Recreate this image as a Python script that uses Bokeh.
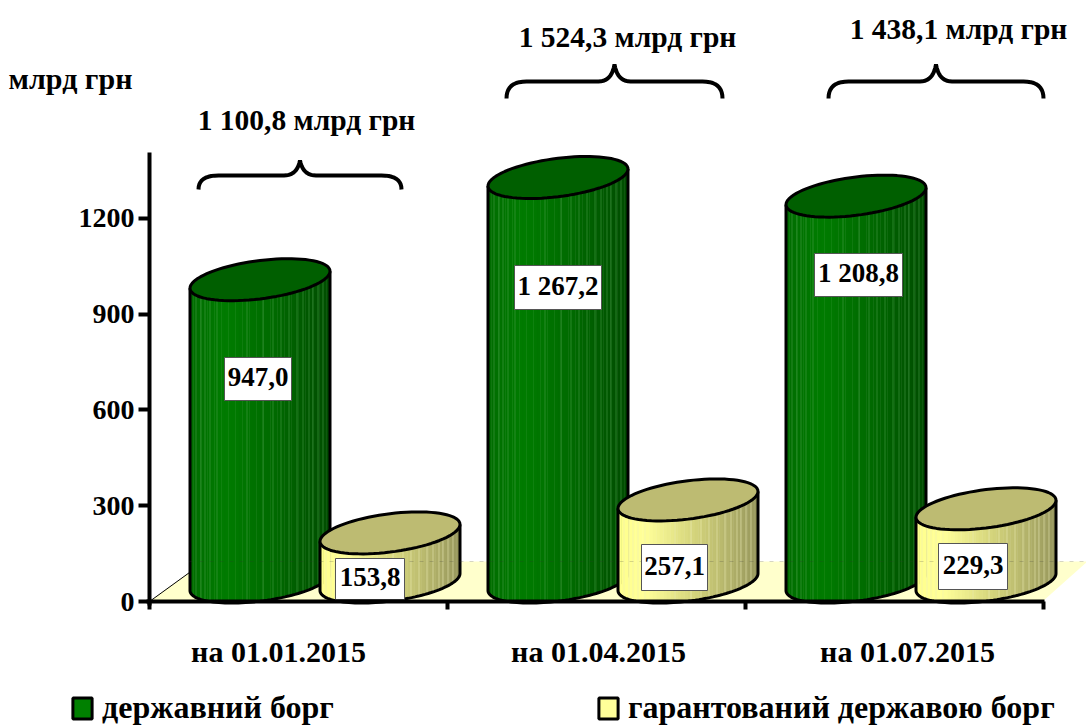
from bokeh.plotting import figure
from bokeh.models import Label, Legend, LegendItem, FixedTicker, Range1d
from bokeh.embed import file_html
from bokeh.resources import INLINE
import math

categories = ["на 01.01.2015", "на 01.04.2015", "на 01.07.2015"]
state_debt = [947.0, 1267.2, 1208.8]
guaranteed_debt = [153.8, 257.1, 229.3]
state_labels = ["947,0", "1 267,2", "1 208,8"]
guaranteed_labels = ["153,8", "257,1", "229,3"]
totals = ["1 100,8 млрд грн", "1 524,3 млрд грн", "1 438,1 млрд грн"]
y_ticks = [0, 300, 600, 900, 1200]
series_names = ["державний борг", "гарантований державою борг"]
unit_label = "млрд грн"

FONT = "Liberation Serif"
PX = 298.0          # pixels per category
PY = 0.3192         # pixels per billion
X0, Y0 = 150, 601   # page pixel of the origin
W, H = 1086, 725

def xd(px): return (px - X0) / PX
def yd(py): return (Y0 - py) / PY

p = figure(width=W, height=H, output_backend="svg", toolbar_location=None,
           x_range=Range1d(xd(1), xd(W + 1)), y_range=Range1d(yd(H), yd(0)),
           min_border_left=0, min_border_right=0, min_border_top=0,
           min_border_bottom=0, outline_line_color=None,
           background_fill_color="white", border_fill_color="white")
p.grid.visible = False

# axes
p.yaxis.fixed_location = 0
p.yaxis.ticker = FixedTicker(ticks=y_ticks)
p.yaxis.bounds = (yd(605), yd(152))
p.yaxis.axis_line_width = 4
p.yaxis.major_tick_line_width = 4
p.yaxis.major_tick_out = 11
p.yaxis.major_tick_in = 0
p.yaxis.minor_tick_line_color = None
p.yaxis.major_label_text_font = FONT
p.yaxis.major_label_text_font_style = "bold"
p.yaxis.major_label_text_font_size = "28px"
p.yaxis.major_label_text_color = "black"
p.yaxis.major_label_standoff = 4

p.xaxis.fixed_location = 0
p.xaxis.ticker = FixedTicker(ticks=[0, 1, 2, 3])
p.xaxis.bounds = (xd(147), xd(1045))
p.xaxis.axis_line_width = 4
p.xaxis.major_tick_line_width = 4
p.xaxis.major_tick_out = 8
p.xaxis.major_tick_in = 0
p.xaxis.minor_tick_line_color = None
p.xaxis.major_label_text_font_size = "0px"
p.xaxis.major_label_overrides = {0: "", 1: "", 2: "", 3: ""}

# floor
p.patch([xd(v) for v in (150, 205, 1088, 1043)],
        [yd(v) for v in (601, 561, 561, 601)],
        fill_color="#ffffcc", line_color=None)
p.line([xd(150), xd(190)], [yd(601), yd(572)], line_color="black", line_width=1)

# cylinder geometry in pixels
HALF_W, TILT, HALF_H = 70.0, 8.5, 19.2
BASE_LIFT = 19.5
LIGHT_AT = [6, 11, 15, 20, 27, 57, 73, 83, 91, 99, 107, 113, 119, 123, 128, 133]

def arc(dx, sign):
    return TILT * dx / HALF_W + sign * HALF_H * math.sqrt(max(0.0, 1 - (dx / HALF_W) ** 2))

def lerp_color(stops, t):
    for (t0, c0), (t1, c1) in zip(stops, stops[1:]):
        if t <= t1:
            f = (t - t0) / (t1 - t0)
            return "#%02x%02x%02x" % tuple(round(a + (b - a) * f) for a, b in zip(c0, c1))
    return "#%02x%02x%02x" % stops[-1][1]

GREEN = [(0, (0, 108, 0)), (0.25, (0, 124, 0)), (0.6, (0, 106, 0)), (1, (0, 76, 0))]
YELLOW = [(0, (255, 255, 140)), (0.2, (255, 255, 153)), (0.6, (205, 205, 120)), (1, (150, 150, 92))]
LIGHT_G = "#4aa04a"
LIGHT_Y = "#ececb8"
N = 40

def cylinder(cx_data, value, stops, top_color, light):
    cx = X0 + cx_data * PX
    base = Y0 - BASE_LIFT                       # page pixel of the base centre
    h = value * PY
    xs, ys, cols = [], [], []
    edges = [-HALF_W + 2 * HALF_W * i / N for i in range(N + 1)]
    for i in range(N):
        a, b = edges[i], edges[i + 1]
        xs.append([xd(cx + a), xd(cx + b), xd(cx + b), xd(cx + a)])
        ys.append([yd(base - h - arc(a, -1)), yd(base - h - arc(b, -1)),
                   yd(base - arc(b, -1)), yd(base - arc(a, -1))])
        cols.append(lerp_color(stops, (i + 0.5) / N))
    p.patches(xs, ys, fill_color=cols, line_color=cols, line_width=0.5)
    lx, ly = [], []
    for off in LIGHT_AT:
        b = off - HALF_W
        lx.append([xd(cx + b), xd(cx + b)])
        ly.append([yd(base - h - arc(b, -1)), yd(base - arc(b, -1))])
    p.multi_line(lx, ly, line_color=light, line_width=1, line_alpha=0.55)
    # outline of the side
    arc_x = [HALF_W * (-math.cos(math.pi * i / 60)) for i in range(61)]
    ox = [xd(cx - HALF_W)] + [xd(cx + v) for v in arc_x] + [xd(cx + HALF_W)]
    oy = [yd(base - h - arc(-HALF_W, -1))] + [yd(base - arc(v, -1)) for v in arc_x] + [yd(base - h - arc(HALF_W, -1))]
    p.line(ox, oy, line_color="black", line_width=3)
    # top
    ring = [HALF_W * math.cos(2 * math.pi * i / 80) for i in range(81)]
    sg = [1 if i <= 40 else -1 for i in range(81)]
    p.patch([xd(cx + v) for v in ring],
            [yd(base - h - arc(v, s)) for v, s in zip(ring, sg)],
            fill_color=top_color, line_color="black", line_width=3)

GREEN_AT, YELLOW_AT = 110.5 / PX, 240.5 / PX
for i in range(3):
    cylinder(i + GREEN_AT, state_debt[i], GREEN, "#005f00", LIGHT_G)
    cylinder(i + YELLOW_AT, guaranteed_debt[i], YELLOW, "#bdbb72", LIGHT_Y)

# faint back edge of the floor seen through the bars
p.line([xd(190), xd(1088)], [yd(561), yd(561)], line_color="#333333", line_alpha=0.2,
       line_width=1, line_dash="4 6")

def text(txt, cx, cy, size):
    p.add_layout(Label(x=xd(cx + 1), y=yd(cy - 2), text=txt, text_font=FONT, text_font_style="bold",
                       text_font_size=size, text_color="black", text_align="center",
                       text_baseline="middle"))

# value boxes: left, right, top, bottom in page pixels
boxes = [(224, 291, 357, 400), (514, 601, 265, 309), (814, 902, 253, 296),
         (335, 404, 558, 599), (641, 707, 544, 590), (938, 1007, 543, 589)]
p.quad(left=[xd(b[0] + 1) for b in boxes], right=[xd(b[1] + 1) for b in boxes],
       top=[yd(b[2]) for b in boxes], bottom=[yd(b[3]) for b in boxes],
       fill_color="white", line_color="#555555", line_width=1)
for txt, b in zip(state_labels + guaranteed_labels, boxes):
    text(txt, (b[0] + b[1]) / 2, (b[2] + b[3]) / 2, "27px")

# totals, unit and categories
for txt, (cx, cy) in zip(totals, [(306, 121), (627, 38), (958, 30)]):
    text(txt, cx, cy, "29.5px")
text(unit_label, 70, 80, "30px")
for txt, cx in zip(categories, [278, 598, 907]):
    text(txt, cx, 653, "30px")

# braces
def brace(left, right, low, rise):
    high = low - rise
    top = high - 15 if rise < 15 else high - 17
    mid = (left + right) / 2
    def q(p0, p1, p2, n=10):
        return [((1 - t) ** 2 * p0[0] + 2 * t * (1 - t) * p1[0] + t * t * p2[0],
                 (1 - t) ** 2 * p0[1] + 2 * t * (1 - t) * p1[1] + t * t * p2[1])
                for t in [k / n for k in range(n + 1)]]
    pts = q((left, low), (left, high), (left + 20, high))
    pts += q((mid - 16, high), (mid - 3, high), (mid, top))
    pts += q((mid, top), (mid + 3, high), (mid + 16, high))
    pts += q((right - 20, high), (right, high), (right, low))
    p.line([xd(a) for a, _ in pts], [yd(b) for _, b in pts], line_color="black", line_width=4)

brace(199, 402, 189, 14)
brace(507, 723, 98, 17)
brace(829, 1044, 98, 17)

# legend
sw1 = p.quad(left=[-2], right=[-1], bottom=[-20], top=[-10], fill_color="#008000", line_color="black", line_width=3)
sw2 = p.quad(left=[-2], right=[-1], bottom=[-20], top=[-10], fill_color="#ffff99", line_color="black", line_width=3)
for rend, name, lx in ((sw1, series_names[0], 70), (sw2, series_names[1], 596)):
    leg = Legend(items=[LegendItem(label=name, renderers=[rend])],
                 location=(lx, -1), orientation="horizontal",
                 border_line_color=None, background_fill_color=None, background_fill_alpha=0,
                 glyph_width=24, glyph_height=26, label_text_font=FONT,
                 label_text_font_style="bold", label_text_font_size="32px",
                 label_text_color="black", margin=0, padding=2, label_standoff=8,
                 label_height=21, click_policy="none")
    p.add_layout(leg)

open("out.html", "w").write(file_html(p, INLINE))
